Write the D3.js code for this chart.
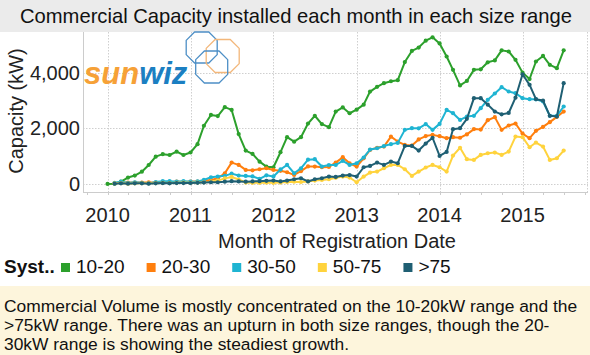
<!DOCTYPE html>
<html><head><meta charset="utf-8">
<script src="https://cdn.jsdelivr.net/npm/d3@7"></script>
<style>body{margin:0;background:#fff}svg{display:block}text{font-family:"Liberation Sans",Arial,Helvetica,sans-serif}</style>
</head><body><svg id="c" width="590" height="355"></svg>
<script>
// ---------- data ----------
const seriesNames = ["10-20", "20-30", "30-50", "50-75", ">75"];
const seriesColors = ["#2ca02c", "#ff7f0e", "#1fb4d2", "#ffd33d", "#1f5f73"];
const yearLabels = ["2010", "2011", "2012", "2013", "2014", "2015"];
const yTicks = [0, 2000, 4000];
// monthly values Jan 2010 .. Jul 2015 (kW)
const s10_20 = [0,10,80,230,300,440,680,980,1070,1040,1160,1040,
  1130,1430,2090,2480,2440,2760,2660,1790,1200,1080,800,620,
  600,1140,1680,1520,1680,2170,2450,2150,2040,2600,2750,2540,
  2670,2850,3320,3490,3620,3690,3730,4380,4780,4900,5150,5270,
  5050,4580,4100,3540,3700,4100,4120,4370,4440,4800,4760,4460,
  4000,3770,4400,4600,4280,4160,4800];
const s20_30 = [null,25,48,48,48,50,55,48,55,60,84,70,
  84,84,120,144,204,384,767,683,504,490,528,564,
  504,470,420,324,460,630,624,600,610,767,960,744,
  624,920,1223,1300,1343,1700,1523,1403,1380,1600,1720,1763,
  1715,1643,1680,1660,1780,1970,1955,2290,2400,1943,2100,2170,
  1810,1643,1910,2050,2220,2410,2602];
const s30_50 = [null,40,80,30,60,40,20,70,100,100,80,100,
  80,90,144,240,264,290,370,300,288,270,180,310,
  270,520,683,384,560,870,888,624,680,680,830,683,
  744,950,1235,1283,1360,1430,1475,1943,2002,2000,2150,1943,
  2158,2662,2542,2300,2420,2446,2722,3022,3250,3477,3321,3261,
  3082,3046,3040,2962,2446,2446,2782];
const s50_75 = [null,20,30,10,20,30,20,30,40,30,40,50,
  40,50,60,80,120,200,250,160,50,40,40,50,
  40,50,70,80,70,90,120,144,168,220,264,230,
  60,264,408,444,564,683,683,528,288,444,590,683,
  600,444,1020,1300,890,863,1043,1103,1127,1043,1163,1703,
  1680,1319,1487,1343,863,923,1199];
const s75plus = [null,10,20,10,20,20,10,20,30,20,30,30,
  30,40,50,60,60,80,100,90,80,90,100,110,
  120,90,120,168,204,90,168,204,264,250,300,320,
  264,600,648,767,683,803,744,1367,1367,1199,1450,1660,
  1007,1150,1967,2002,2340,3082,3082,2850,2600,2500,2550,3100,
  3940,3561,3046,2998,2446,2422,3621];
const summary = [
  "Commercial Volume is mostly concentrated on the 10-20kW range and the",
  ">75kW range. There was an upturn in both size ranges, though the 20-",
  "30kW range is showing the steadiest growth."
];
const seriesValues = [s10_20, s20_30, s30_50, s50_75, s75plus];
const months = d3.timeMonth.range(new Date(2010, 0, 1), new Date(2015, 7, 1));

// ---------- layout ----------
const svg = d3.select("#c");
const L = 83, R = 588, T = 32, B = 192;
const x = d3.scaleTime().domain([new Date(2009, 8, 15), new Date(2015, 9, 16)]).range([L, R]);
const y = d3.scaleLinear().domain([-290, 5460]).range([B, T]);

// title band
svg.append("rect").attr("x", 0).attr("y", 0).attr("width", 590).attr("height", T).attr("fill", "#ebebeb");
svg.append("text").attr("x", 296).attr("y", 23).attr("text-anchor", "middle")
  .attr("font-size", 20.2).attr("fill", "#111").text("Commercial Capacity installed each month in each size range");

// plot background
svg.append("rect").attr("x", L).attr("y", T).attr("width", R - L).attr("height", B - T).attr("fill", "#fff");

const yearDates = yearLabels.map(s => new Date(+s, 0, 1));
const grid = svg.append("g").attr("stroke", "#cfcfcf").attr("stroke-width", 1).attr("stroke-dasharray", "1.5,1.5");
grid.selectAll("line.v").data(yearDates).join("line")
  .attr("x1", d => Math.round(x(d)) + 0.5).attr("x2", d => Math.round(x(d)) + 0.5)
  .attr("y1", T).attr("y2", B);
grid.selectAll("line.h").data(yTicks).join("line")
  .attr("x1", L).attr("x2", R).attr("y1", d => Math.round(y(d)) + 0.5).attr("y2", d => Math.round(y(d)) + 0.5);
grid.append("line").attr("x1", R - 0.5).attr("x2", R - 0.5).attr("y1", T).attr("y2", B);

// axes lines
svg.append("line").attr("x1", L + 0.5).attr("x2", L + 0.5).attr("y1", T).attr("y2", B).attr("stroke", "#cccccc");
svg.append("line").attr("x1", L).attr("x2", R).attr("y1", B + 0.5).attr("y2", B + 0.5).attr("stroke", "#cccccc");
const tickMonths = d3.timeMonth.every(3).range(new Date(2009, 9, 1), new Date(2015, 10, 1));
svg.append("g").selectAll("line").data(tickMonths).join("line")
  .attr("x1", d => Math.round(x(d)) + 0.5).attr("x2", d => Math.round(x(d)) + 0.5)
  .attr("y1", B).attr("y2", B + 3).attr("stroke", "#cccccc");

// axis labels
svg.append("g").selectAll("text").data(yTicks).join("text")
  .attr("x", 80).attr("y", d => y(d) + 7).attr("text-anchor", "end")
  .attr("font-size", 20).attr("fill", "#222").text(d => d3.format(",")(d));
svg.append("g").selectAll("text").data(yearDates).join("text")
  .attr("x", d => x(d)).attr("y", 222).attr("text-anchor", "middle")
  .attr("font-size", 20).attr("fill", "#222").text((d, i) => yearLabels[i]);
svg.append("text").attr("transform", "translate(23,111) rotate(-90)").attr("text-anchor", "middle")
  .attr("font-size", 20).attr("fill", "#222").text("Capacity (kW)");
svg.append("text").attr("x", 337).attr("y", 248).attr("text-anchor", "middle")
  .attr("font-size", 20).attr("fill", "#222").text("Month of Registration Date");

// logo
const logo = svg.append("g");
function octagon(cx, cy, s, c) {
  const h = s / 2, k = s * 0.27;
  const pts = [[cx - h + k, cy - h], [cx + h - k, cy - h], [cx + h, cy - h + k], [cx + h, cy + h - k],
    [cx + h - k, cy + h], [cx - h + k, cy + h], [cx - h, cy + h - k], [cx - h, cy - h + k]];
  logo.append("path").attr("d", d3.line().curve(d3.curveLinearClosed)(pts))
    .attr("fill", "none").attr("stroke", c).attr("stroke-width", 1.3).attr("stroke-linejoin", "round");
}
octagon(201.7, 47.5, 31, "#4d8fc6");
octagon(222.7, 56, 33, "#f3b77a");
octagon(211.7, 67, 32, "#4d8fc6");
const lt = logo.append("text").attr("x", 84).attr("y", 84).attr("font-size", 31)
  .attr("font-weight", "bold").attr("font-style", "italic");
lt.append("tspan").attr("fill", "#f6a137").text("sun");
lt.append("tspan").attr("fill", "#1b7fc2").text("wiz");

// series
const line = d3.line().defined(d => d.v != null).x(d => x(d.t)).y(d => y(d.v));
seriesValues.forEach((vals, i) => {
  const pts = vals.map((v, j) => ({ t: months[j], v }));
  const g = svg.append("g");
  g.append("path").datum(pts).attr("d", line).attr("fill", "none")
    .attr("stroke", seriesColors[i]).attr("stroke-width", 2).attr("stroke-linejoin", "round");
  g.selectAll("circle").data(pts.filter(d => d.v != null)).join("circle")
    .attr("cx", d => x(d.t)).attr("cy", d => y(d.v)).attr("r", 2.1).attr("fill", seriesColors[i]);
});

// legend
const lg = svg.append("g");
lg.append("text").attr("x", 4).attr("y", 273).attr("font-size", 19).attr("font-weight", "bold")
  .attr("fill", "#111").text("Syst..");
let lx = 61;
seriesNames.forEach((n, i) => {
  lg.append("rect").attr("x", lx).attr("y", 263).attr("width", 9).attr("height", 9).attr("fill", seriesColors[i]);
  const t = lg.append("text").attr("x", lx + 15).attr("y", 273).attr("font-size", 19).attr("fill", "#111").text(n);
  lx += 15 + t.node().getComputedTextLength() + 22;
});

// summary box
svg.append("rect").attr("x", 0).attr("y", 286).attr("width", 590).attr("height", 69).attr("fill", "#fdf5dc");
svg.append("g").selectAll("text").data(summary).join("text")
  .attr("x", 4).attr("y", (d, i) => 312 + i * 19).attr("font-size", 17.4).attr("fill", "#111").text(d => d);
</script></body></html>
